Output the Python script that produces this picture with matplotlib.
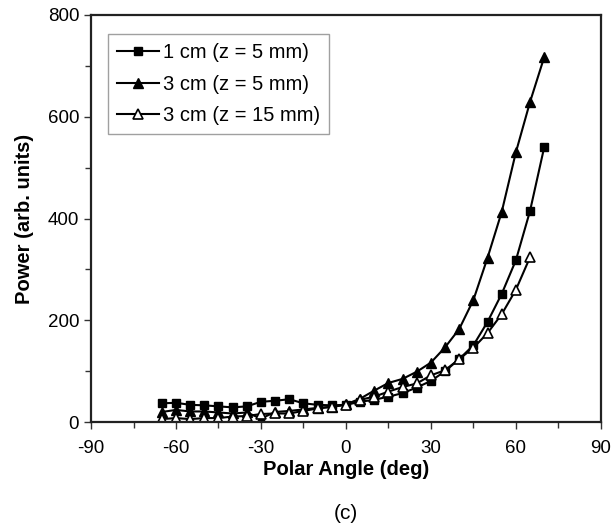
import numpy as np
import matplotlib.pyplot as plt
from matplotlib.ticker import MultipleLocator

plt.rcParams['font.family'] = ['Liberation Sans', 'DejaVu Sans']
plt.rcParams['axes.unicode_minus'] = False

angle = list(range(-65, 75, 5))
angle_15 = list(range(-65, 70, 5))

# power readings (arb. units)
p_1cm_5mm = [37, 38, 34, 33, 31, 29, 31, 40, 42, 45, 37, 34, 33, 34,
             40, 44, 50, 57, 68, 81, 100, 124, 151, 197, 252, 318, 415, 540]
p_3cm_5mm = [20, 24, 21, 21, 19, 17, 19, 7, 20, 22, 25, 28, 30, 35,
             46, 62, 77, 85, 99, 117, 147, 183, 240, 323, 413, 530, 629, 717]
p_3cm_15mm = [6, 8, 6, 8, 8, 11, 12, 16, 17, 17, 22, 27, 30, 34,
              44, 50, 60, 69, 76, 92, 102, 124, 146, 175, 212, 260, 324]

fig = plt.figure(figsize=(6.15, 5.31), dpi=100)
ax = fig.add_axes([0.148, 0.205, 0.829, 0.767])

ax.plot(angle, p_1cm_5mm, color='black', lw=1.5, marker='s', ms=6,
        mfc='black', mec='black', label='1 cm (z = 5 mm)')
ax.plot(angle, p_3cm_5mm, color='black', lw=1.5, marker='^', ms=7,
        mfc='black', mec='black', label='3 cm (z = 5 mm)')
ax.plot(angle_15, p_3cm_15mm, color='black', lw=1.5, marker='^', ms=7,
        mfc='white', mec='black', mew=1.2, label='3 cm (z = 15 mm)')

ax.set_xlim(-90, 90)
ax.set_ylim(0, 800)
ax.xaxis.set_major_locator(MultipleLocator(30))
ax.xaxis.set_minor_locator(MultipleLocator(15))
ax.yaxis.set_major_locator(MultipleLocator(200))
ax.yaxis.set_minor_locator(MultipleLocator(100))
ax.tick_params(which='both', direction='out', labelsize=13.5, color='#333333')
ax.tick_params(which='major', length=5, width=1)
ax.tick_params(which='minor', length=4, width=1)
ax.tick_params(axis='x', pad=8)
for s in ax.spines.values():
    s.set_linewidth(1.6)
    s.set_color('#222222')

ax.set_xlabel('Polar Angle (deg)', fontsize=14.5, fontweight='bold', labelpad=2)
ax.set_ylabel('Power (arb. units)', fontsize=14.5, fontweight='bold', labelpad=10)

leg = ax.legend(loc='upper left', bbox_to_anchor=(0.033, 0.952), fontsize=14.5,
                frameon=True, fancybox=False, handlelength=2.1, handletextpad=0.2,
                borderpad=0.45, labelspacing=0.6, borderaxespad=0)
leg.get_frame().set_edgecolor('#888888')
leg.get_frame().set_linewidth(1.0)

fig.text(0.563, 0.015, '(c)', fontsize=15, ha='center', va='bottom')

fig.savefig('out.png', dpi=100)
